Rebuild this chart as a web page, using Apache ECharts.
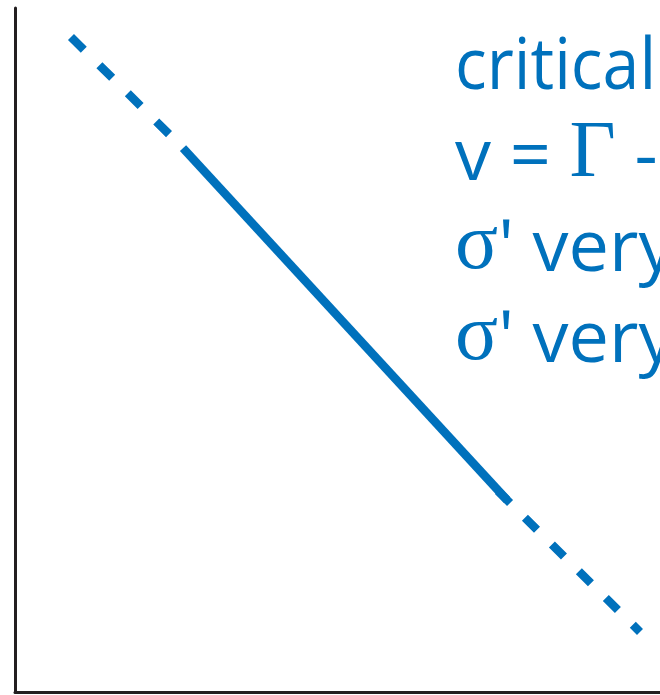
<!DOCTYPE html>
<html>
<head>
<meta charset="utf-8">
<script src="https://cdn.jsdelivr.net/npm/echarts@6/dist/echarts.min.js"></script>
<style>
  html, body { margin: 0; padding: 0; background: #ffffff; }
  #chart { width: 660px; height: 695px; }
</style>
</head>
<body>
<div id="chart"></div>
<script>
// Upper dashed extension of the trend
const upperX = [0.868, 2.605];
const upperY = [9.576, 7.953];
// Solid, measured part of the trend
const solidX = [2.605, 7.628];
const solidY = [7.953, 2.807];
// Lower dashed extension
const lowerX = [7.488, 9.690];
const lowerY = [2.939, 0.877];

// Annotation lines (each is a list of [text, style] runs)
const noteLines = [
  [['critical', 's']],
  [['v = ', 's'], ['Γ', 'g'], [' -', 's']],
  [['σ', 'g'], ["' very", 's']],
  [['σ', 'g'], ["' very", 's']]
];
// Horizontal squeeze per line (the sans face runs a bit wide)
const noteScale = [0.92, 1, 1, 1];

const BLUE = '#0071bc';
const AXIS = '#231f20';

function pairs(xs, ys) { return xs.map((x, i) => [x, ys[i]]); }

const chart = echarts.init(document.getElementById('chart'));

const lineStep = 91.3;
const graphics = noteLines.map((runs, i) => ({
  type: 'text',
  x: 455,
  y: 20 + i * lineStep,
  scaleX: noteScale[i],
  silent: true,
  style: {
    text: runs.map(r => '{' + r[1] + '|' + r[0] + '}').join(''),
    rich: {
      s: { fontFamily: 'Open Sans', fontSize: 72, fill: BLUE, lineHeight: 84, verticalAlign: 'bottom' },
      g: { fontFamily: 'Liberation Serif', fontSize: 80, fill: BLUE, lineHeight: 84, verticalAlign: 'bottom' }
    }
  }
}));

chart.setOption({
  animation: false,
  backgroundColor: '#ffffff',
  grid: { left: 15, right: 0, top: 8, bottom: 3 },
  xAxis: {
    type: 'value', min: 0, max: 10,
    axisLine: { show: true, onZero: false, lineStyle: { color: AXIS, width: 3 } },
    axisTick: { show: false }, axisLabel: { show: false }, splitLine: { show: false }
  },
  yAxis: {
    type: 'value', min: 0, max: 10,
    axisLine: { show: true, onZero: false, lineStyle: { color: AXIS, width: 3 } },
    axisTick: { show: false }, axisLabel: { show: false }, splitLine: { show: false }
  },
  series: [
    {
      type: 'line', data: pairs(upperX, upperY), symbol: 'none',
      lineStyle: { color: BLUE, width: 8.5, type: [18, 22], cap: 'butt' }
    },
    {
      type: 'line', data: pairs(solidX, solidY), symbol: 'none',
      lineStyle: { color: BLUE, width: 8.5, type: 'solid', cap: 'butt' }
    },
    {
      type: 'line', data: pairs(lowerX, lowerY), symbol: 'none',
      lineStyle: { color: BLUE, width: 8.5, type: [17, 21], cap: 'butt' }
    }
  ],
  graphic: graphics
});
</script>
</body>
</html>
